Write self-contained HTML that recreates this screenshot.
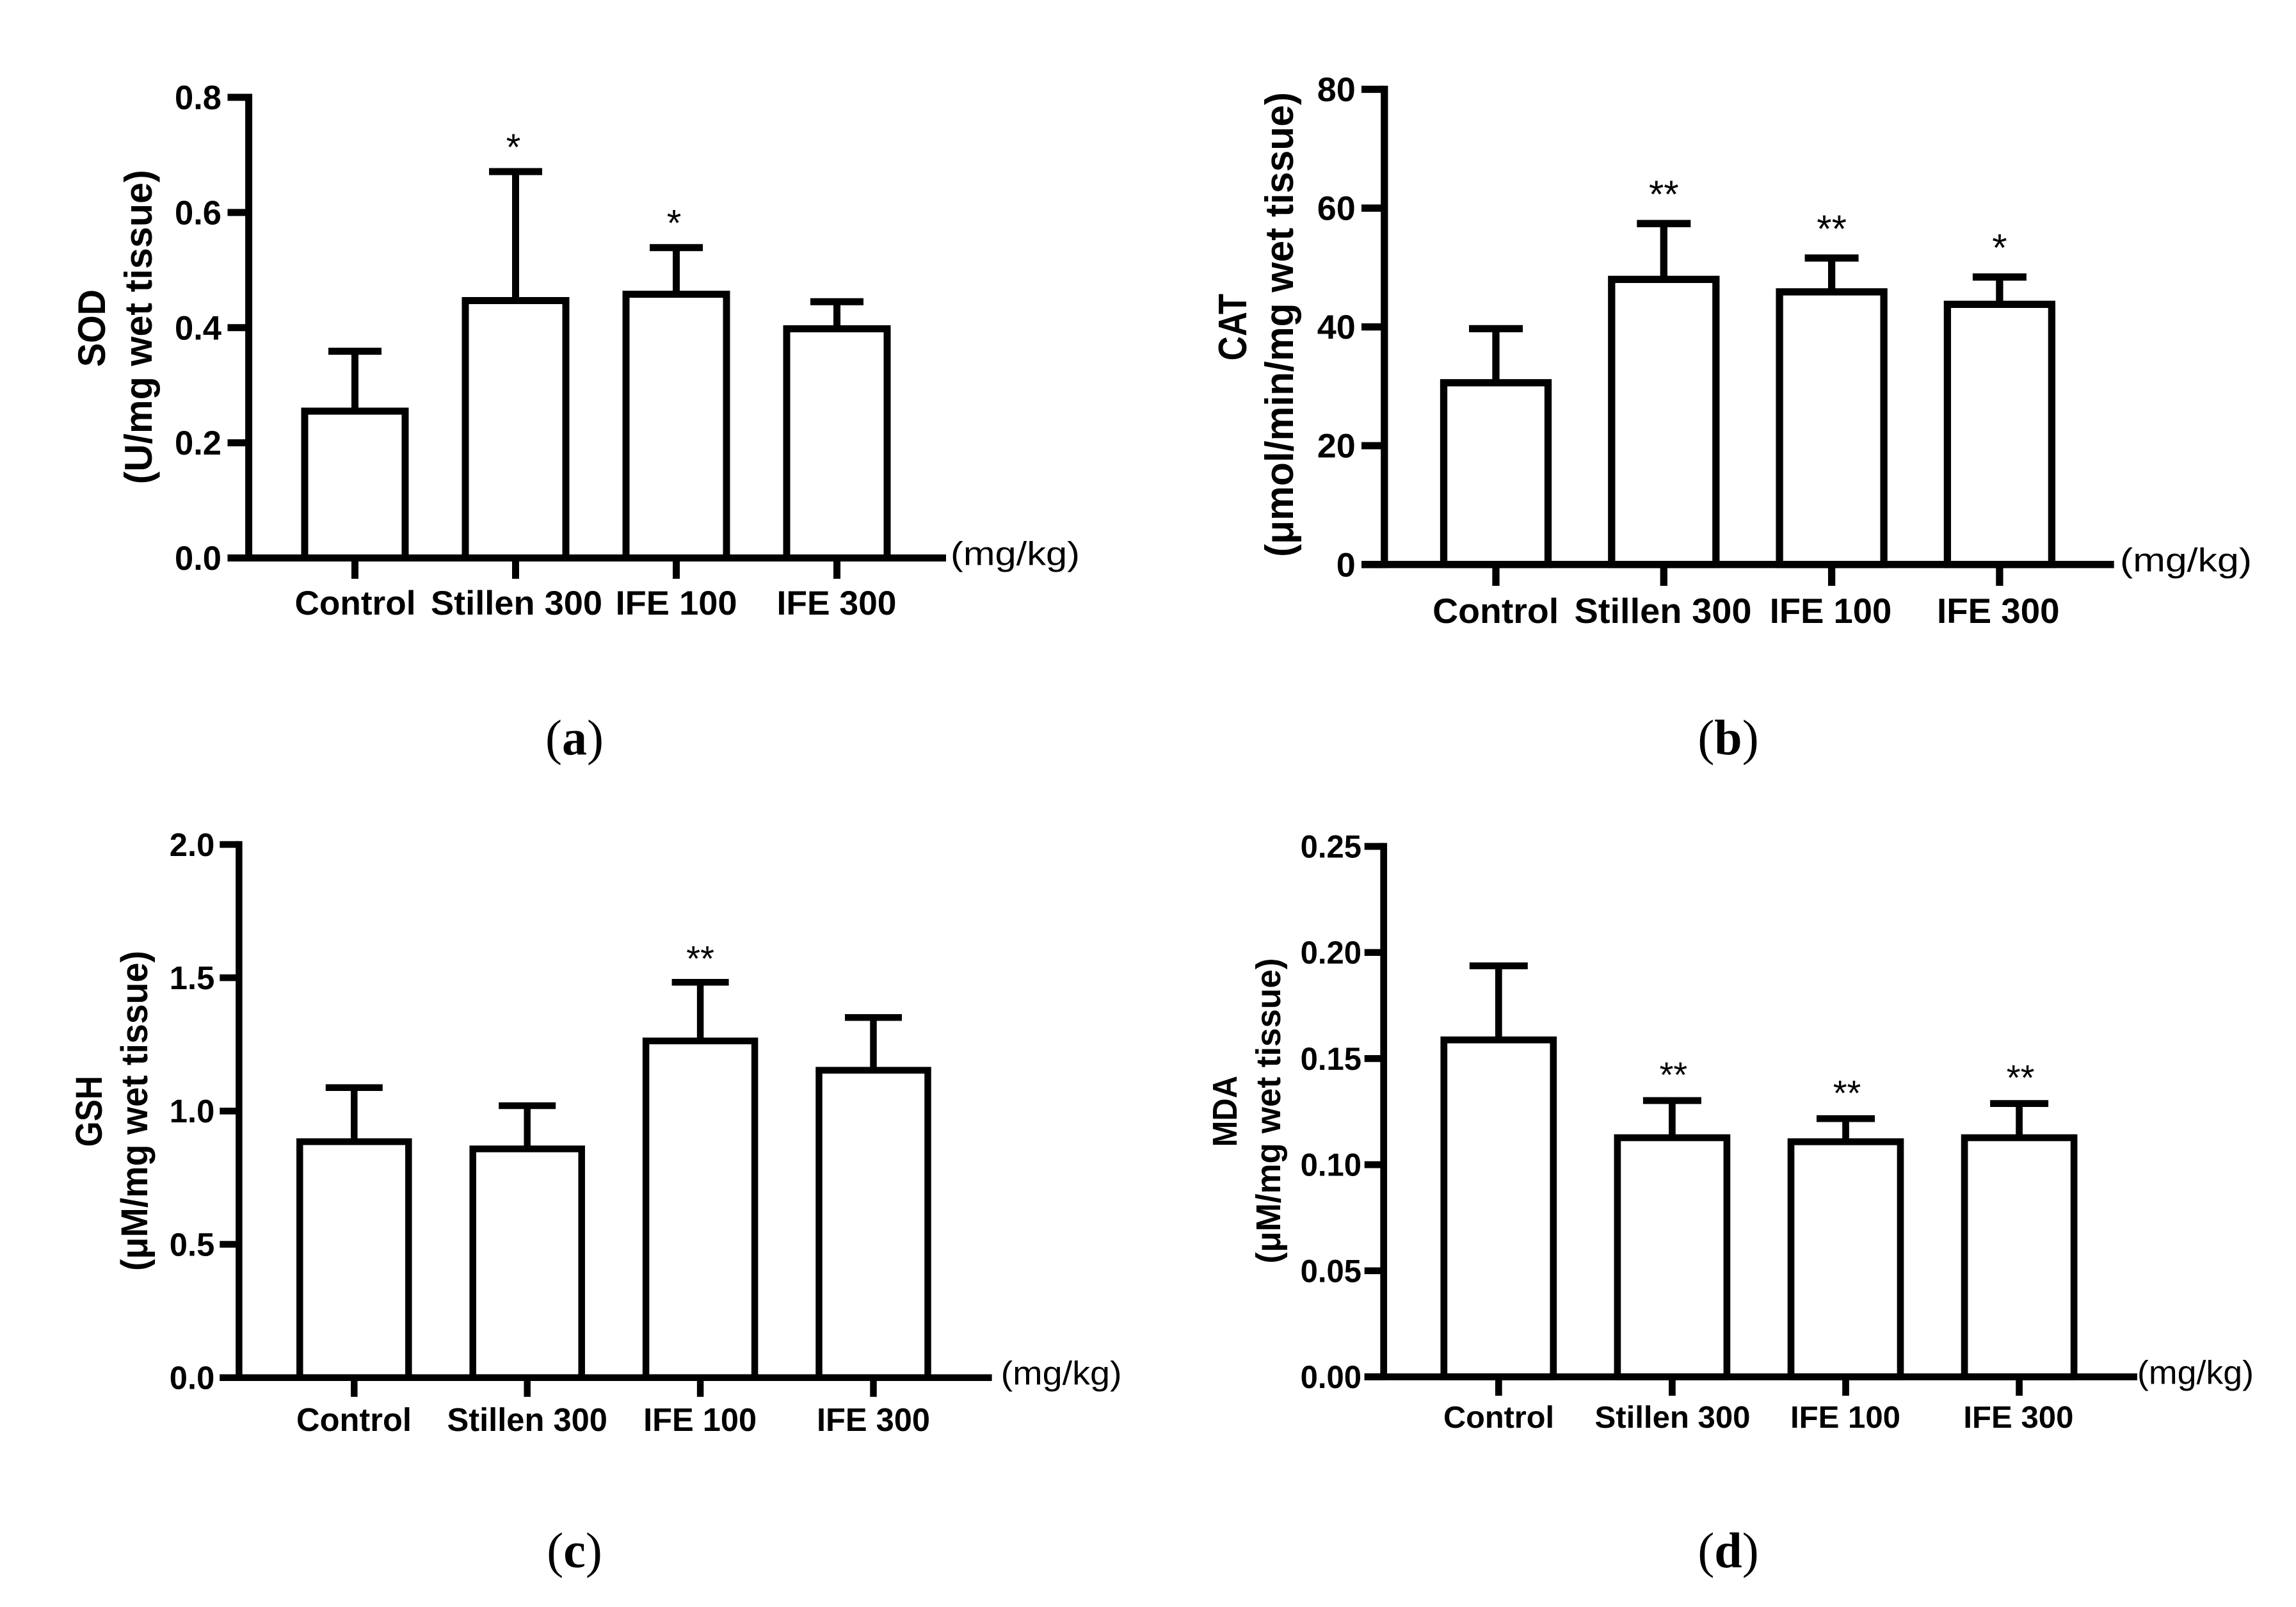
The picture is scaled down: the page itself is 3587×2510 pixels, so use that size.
<!DOCTYPE html>
<html>
<head>
<meta charset="utf-8">
<title>Antioxidant enzyme bar charts</title>
<style>
html,body{margin:0;padding:0;background:#fff;}
svg{display:block;}
text{font-family:"Liberation Sans",sans-serif;fill:#000;}
.serif{font-family:"Liberation Serif",serif;}
</style>
</head>
<body>
<svg id="figure" xmlns="http://www.w3.org/2000/svg" width="3587" height="2510" viewBox="0 0 3587 2510">
<rect x="0" y="0" width="3587" height="2510" fill="#fff"/>
</svg>
<script>
const categories = ['Control', 'Stillen 300', 'IFE 100', 'IFE 300'];

const sodTicks = ['0.0', '0.2', '0.4', '0.6', '0.8'];
const sodMeans = [0.255, 0.447, 0.458, 0.398];
const sodUpper = [0.359, 0.671, 0.539, 0.445];
const sodStars = ['', '*', '*', ''];

const catTicks = ['0', '20', '40', '60', '80'];
const catMeans = [30.6, 48.0, 45.9, 43.8];
const catUpper = [39.7, 57.4, 51.6, 48.4];
const catStars = ['', '**', '**', '*'];

const gshTicks = ['0.0', '0.5', '1.0', '1.5', '2.0'];
const gshMeans = [0.885, 0.858, 1.263, 1.153];
const gshUpper = [1.088, 1.020, 1.483, 1.351];
const gshStars = ['', '', '**', ''];

const mdaTicks = ['0.00', '0.05', '0.10', '0.15', '0.20', '0.25'];
const mdaMeans = [0.1588, 0.1127, 0.1108, 0.1127];
const mdaUpper = [0.1937, 0.1302, 0.1217, 0.1288];
const mdaStars = ['', '**', '**', '**'];

const panels = [
  { id:'sod', letter:'a', ticks:sodTicks, means:sodMeans, upper:sodUpper, stars:sodStars,
    title:'SOD', unit:'(U/mg wet tissue)', lw:11,
    axisX:388.6, y0:871.5, yTop:152, tickLeft:355.5, xEnd:1478, tickBottom:904,
    c0:554.5, step:251, barW:157, capW:83, starGap:43, starDx:-3.5, starFs:58,
    catY:960, catFs:53, catW:[189,268,190,187], catCx:[555,807,1056.6,1307], tickRight:346, tickW:73, tickFs:53,
    titleFs:60, t1:[164,512.6,121], t2:[237,510.7,491], mgX:1485, mgW:202, letterX:897.5, letterY:1178.5 },
  { id:'cat', letter:'b', ticks:catTicks, means:catMeans, upper:catUpper, stars:catStars,
    title:'CAT', unit:'(\u03BCmol/min/mg wet tissue)', lw:11.3,
    axisX:2162.8, y0:881.7, yTop:139.5, tickLeft:2127, xEnd:3302.7, tickBottom:915,
    c0:2337, step:262.3, barW:163, capW:84, starGap:51, starDx:0, starFs:60,
    catY:973, catFs:55, catW:[197,277,190.5,191.5], catCx:[2336.6,2598,2860,3121.8], tickRight:2117.8, tickW:60, tickFs:53,
    titleFs:62, t1:[1947,511,104.5], t2:[2020,507,726], mgX:3312, mgW:206, letterX:2700, letterY:1178.5 },
  { id:'gsh', letter:'c', ticks:gshTicks, means:gshMeans, upper:gshUpper, stars:gshStars,
    title:'GSH', unit:'(\u03BCM/mg wet tissue)', lw:10.5,
    axisX:373.4, y0:2151.7, yTop:1319, tickLeft:343.3, xEnd:1549.6, tickBottom:2181.7,
    c0:553.3, step:270.4, barW:170, capW:89, starGap:42, starDx:0, starFs:56,
    catY:2235, catFs:51, catW:[180,250.5,177,177], catCx:[553,823.7,1093.6,1364.5], tickRight:335.3, tickW:70.5, tickFs:51,
    titleFs:58, t1:[159,1735.7,111], t2:[230,1735,500], mgX:1563.6, mgW:189, letterX:897.5, letterY:2448 },
  { id:'mda', letter:'d', ticks:mdaTicks, means:mdaMeans, upper:mdaUpper, stars:mdaStars,
    title:'MDA', unit:'(\u03BCM/mg wet tissue)', lw:10.7,
    axisX:2161.7, y0:2150.5, yTop:1322, tickLeft:2131.7, xEnd:3339, tickBottom:2180,
    c0:2341.3, step:271.1, barW:171, capW:91, starGap:45, starDx:2, starFs:56,
    catY:2230, catFs:48, catW:[173,243,172,172], catCx:[2341.5,2613,2883,3153.4], tickRight:2127, tickW:95.4, tickFs:50,
    titleFs:54, t1:[1932,1735.7,111], t2:[2000,1735,477], mgX:3339, mgW:182, letterX:2700, letterY:2448 }
];

const svgNS = 'http://www.w3.org/2000/svg';
const root = document.getElementById('figure');

function make(parent, tag, attrs, content) {
  const el = document.createElementNS(svgNS, tag);
  Object.keys(attrs).forEach(function (k) { el.setAttribute(k, attrs[k]); });
  if (content !== undefined) el.textContent = content;
  parent.appendChild(el);
  return el;
}

function segment(parent, x1, y1, x2, y2, w) {
  return make(parent, 'line', { x1:x1, y1:y1, x2:x2, y2:y2, stroke:'#000', 'stroke-width':w });
}

panels.forEach(function (p) {
  const g = make(root, 'g', {});
  
  

  const maxVal = Number(p.ticks[p.ticks.length - 1]);
  const yScale = function (v) { return p.y0 - (v / maxVal) * (p.y0 - p.yTop); };
  const xScale = function (i) { return p.c0 + i * p.step; };

  categories.forEach(function (cat, i) {
    const slug = cat.toLowerCase().replace(/\s+/g, '-');
    const cx = xScale(i);
    const yMean = yScale(p.means[i]);
    const yUp = yScale(p.upper[i]);

    const stem = segment(g, cx, yMean, cx, yUp, p.lw);
    
    

    const cap = segment(g, cx - p.capW / 2, yUp, cx + p.capW / 2, yUp, p.lw);
    
    

    const bar = make(g, 'rect', { x:cx - p.barW / 2, y:yMean, width:p.barW, height:p.y0 - yMean,
      fill:'#fff', stroke:'#000', 'stroke-width':p.lw });
    
    

    const xTick = segment(g, cx, p.y0, cx, p.tickBottom, p.lw);
    
    

    const label = make(g, 'text', { x:p.catCx[i], y:p.catY, 'text-anchor':'middle', 'font-size':p.catFs,
      'font-weight':'bold', textLength:p.catW[i], lengthAdjust:'spacingAndGlyphs' }, cat);
    
    

    if (p.stars[i]) {
      const star = make(g, 'text', { x:cx + p.starDx, y:yUp - p.starGap + p.starFs * 0.43, 'text-anchor':'middle', 'font-size':p.starFs }, p.stars[i]);
      
      
    }
  });

  const yAxis = segment(g, p.axisX, p.yTop - p.lw / 2, p.axisX, p.y0 + p.lw / 2, p.lw);
  
  

  const xAxis = segment(g, p.tickLeft, p.y0, p.xEnd, p.y0, p.lw);
  
  

  p.ticks.forEach(function (t) {
    const yy = yScale(Number(t));
    const tick = segment(g, p.tickLeft, yy, p.axisX, yy, p.lw);
    
    

    const tl = make(g, 'text', { x:p.tickRight, y:yy + p.tickFs * 0.35, 'text-anchor':'end', 'font-size':p.tickFs,
      'font-weight':'bold', textLength:p.tickW * (t.length / p.ticks[p.ticks.length - 1].length),
      lengthAdjust:'spacingAndGlyphs' }, t);
    
    
  });

  const title = make(g, 'text', { transform:'translate(' + p.t1[0] + ',' + p.t1[1] + ') rotate(-90)',
    'text-anchor':'middle', 'font-size':p.titleFs, 'font-weight':'bold', textLength:p.t1[2],
    lengthAdjust:'spacingAndGlyphs' }, p.title);
  
  

  const unit = make(g, 'text', { transform:'translate(' + p.t2[0] + ',' + p.t2[1] + ') rotate(-90)',
    'text-anchor':'middle', 'font-size':p.titleFs, 'font-weight':'bold', textLength:p.t2[2],
    lengthAdjust:'spacingAndGlyphs' }, p.unit);
  
  

  const mg = make(g, 'text', { x:p.mgX, y:p.y0 + 11, 'font-size':52, textLength:p.mgW,
    lengthAdjust:'spacingAndGlyphs' }, '(mg/kg)');
  
  

  const letter = make(g, 'text', { x:p.letterX, y:p.letterY, 'text-anchor':'middle', 'font-size':78, 'class':'serif' });
  
  
  make(letter, 'tspan', {}, '(');
  make(letter, 'tspan', { 'font-weight':'bold' }, p.letter);
  make(letter, 'tspan', {}, ')');
});
</script>
</body>
</html>
